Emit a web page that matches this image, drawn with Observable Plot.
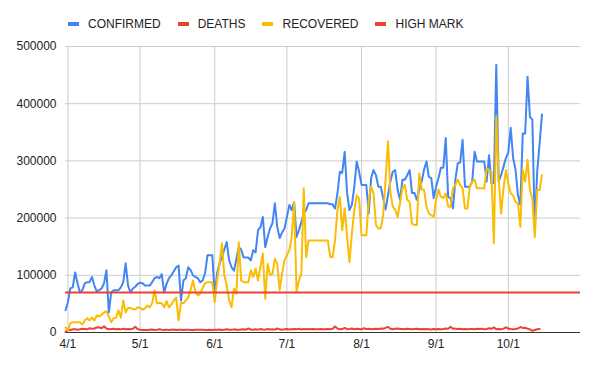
<!DOCTYPE html>
<html><head><meta charset="utf-8">
<script src="https://cdn.jsdelivr.net/npm/d3@7"></script>
<script src="https://cdn.jsdelivr.net/npm/@observablehq/plot@0.6"></script>
<style>
body{margin:0;background:#fff;font-family:"Liberation Sans",Arial,sans-serif;}
#legend{height:36px;box-sizing:border-box;padding-left:68px;padding-top:11px;display:flex;align-items:center;font-size:12px;color:#222;line-height:14px;}
.item{display:flex;align-items:center;margin-right:17px;}
.sw{width:11px;height:4px;margin-right:9px;}
</style></head><body>
<div id="legend"></div><div id="chart"></div>
<script>
// Values in thousands, one per day starting 2020-03-31
const confirmedK = [39,53,77,79,105,86,70,74,86,88,88,97,82,72,74,77,86,109,35,70,74,74,74,79,88,121,82,70,77,80,85,87,86,82,82,82,88,95,97,95,102,70,85,95,100,107,114,117,56,91,95,114,109,100,97,95,88,91,104,135,135,135,65,104,120,132,145,158,126,114,108,128,149,145,131,131,131,126,144,140,179,184,202,149,167,182,191,226,184,165,175,182,202,223,214,228,167,179,193,209,214,226,226,226,226,226,226,226,226,226,224,224,217,243,281,279,316,244,214,223,255,299,281,258,258,258,208,270,284,275,255,255,235,215,240,264,281,284,250,232,267,267,275,284,244,244,232,250,264,285,299,272,270,235,255,270,288,288,340,237,235,217,267,296,297,337,255,255,255,264,316,299,299,299,299,264,310,261,261,468,264,275,290,305,315,358,305,285,240,223,348,348,447,377,372,182,281,330,381];
const deathsK = [1,4.7,4.5,5.8,5.5,5,5.6,6.4,6,5.6,7.5,6.5,7,8.8,9,7.5,11,7,5.8,6.2,6.5,5.8,6,5.5,6.5,5.8,6.2,5.5,6.5,10,5.8,5,4.5,4.2,4.5,5,5.2,4.5,4.8,5.5,4.8,4.5,5,4.2,4.8,5.2,4.5,5,4.6,4.2,4.8,5,4.5,4.2,4.8,5,4.6,4.8,4.2,4.5,4.8,4.2,5,4.8,5.2,4.5,5,5.5,4.8,4.6,5.5,5,4.6,5.2,5.8,5,7,5.2,4.8,5.5,5,6,5.4,5,6,5.2,5.8,5,7,5.5,5,5.5,6.2,5.2,5.8,6,5.5,6.5,5.2,6,5.8,6,5.6,6.2,5.8,5.5,6,5.8,5.5,6,5.8,6.5,10.5,7,5.5,6,8,5.8,6.2,7,5.8,6.5,6,5.5,7.5,6.2,6.5,5.8,6.2,6.5,6,7,6.5,8,10,6.5,5.8,6.5,7,6,6.2,5.8,6.5,6.2,5.5,6,6.5,5.8,6.2,5.5,6,5.8,5.2,6.2,5.5,6,5.8,6.2,6.8,6.5,10,6.5,6.8,6,6.5,5.8,6.2,5.5,6,6.2,5.8,6.5,6,6.8,5.5,6.2,7.5,6.5,9,5.8,6.2,5.5,6.8,9,7,6,5.5,6.2,7,9.5,8,8.5,6.5,5.5,3,4.5,5.8,6];
const recoveredK = [9,4,16,18,18,18,18,14,21,25,21,26,21,30,28,31,35,37,28,18,25,26,39,26,56,35,43,43,41,40,44,43,40,42,47,44,51,74,51,52,51,44,55,44,49,56,61,21,52,51,56,61,75,91,70,65,68,78,86,88,88,88,53,91,121,156,100,82,56,44,77,68,158,91,88,88,88,109,97,112,91,115,138,59,120,100,103,129,120,74,103,126,135,144,167,228,71,91,103,252,132,161,161,161,161,161,161,161,161,161,132,132,161,214,237,179,217,167,123,173,214,240,234,170,170,170,231,255,243,188,182,182,205,267,334,245,220,215,202,226,252,258,232,228,190,188,188,278,250,249,220,208,205,202,232,250,237,235,243,220,220,252,258,267,258,252,217,217,255,264,267,252,252,252,252,287,284,281,156,378,270,208,252,284,261,243,240,228,226,185,284,264,302,249,234,167,249,249,275];
const highMark = 70000;
const seriesNames = ["CONFIRMED","DEATHS","RECOVERED","HIGH MARK"];
const seriesColors = ["#4285F4","#EA4335","#FBBC04","#EA4335"];
const yTicks = [0,100000,200000,300000,400000,500000];

const start = new Date(Date.UTC(2020,2,31));
const end = new Date(Date.UTC(2020,9,31));
const xTicks = d3.utcMonth.range(new Date(Date.UTC(2020,3,1)), end);
const dates = confirmedK.map((_, i) => d3.utcDay.offset(start, i));
const rows = arr => arr.map((v, i) => ({date: dates[i], value: v * 1000}));

const legend = document.getElementById("legend");
seriesNames.forEach((n, i) => {
  const it = document.createElement("div"); it.className = "item";
  const sw = document.createElement("div"); sw.className = "sw"; sw.style.background = seriesColors[i];
  const t = document.createElement("span"); t.textContent = n;
  it.appendChild(sw); it.appendChild(t); legend.appendChild(it);
});

const lineOpts = c => ({x: "date", y: "value", stroke: c, strokeWidth: 2, strokeLinejoin: "round"});
const chart = Plot.plot({
  width: 595, height: 330,
  marginTop: 10, marginBottom: 34, marginLeft: 65, marginRight: 15,
  style: {fontFamily: "Liberation Sans, Arial, sans-serif", fontSize: "12px", color: "#222", background: "#fff"},
  x: {type: "utc", domain: [start, end], label: null},
  y: {domain: [0, 500000], label: null},
  marks: [
    Plot.gridX(xTicks, {stroke: "#ccc", strokeOpacity: 1}),
    Plot.gridY(yTicks, {stroke: "#ccc", strokeOpacity: 1}),
    Plot.ruleY([0], {stroke: "#333"}),
    Plot.lineY(rows(confirmedK), lineOpts(seriesColors[0])),
    Plot.lineY(rows(deathsK), lineOpts(seriesColors[1])),
    Plot.lineY(rows(recoveredK), lineOpts(seriesColors[2])),
    Plot.ruleY([highMark], {stroke: seriesColors[3], strokeWidth: 2}),
    Plot.axisX(xTicks, {tickSize: 0, tickPadding: 7, tickFormat: d3.utcFormat("%-m/%-d"), fill: "#222", label: null}),
    Plot.axisY(yTicks, {tickSize: 0, tickPadding: 9, tickFormat: d => String(d), fill: "#222", label: null})
  ]
});
document.getElementById("chart").appendChild(chart);
</script>
</body></html>
